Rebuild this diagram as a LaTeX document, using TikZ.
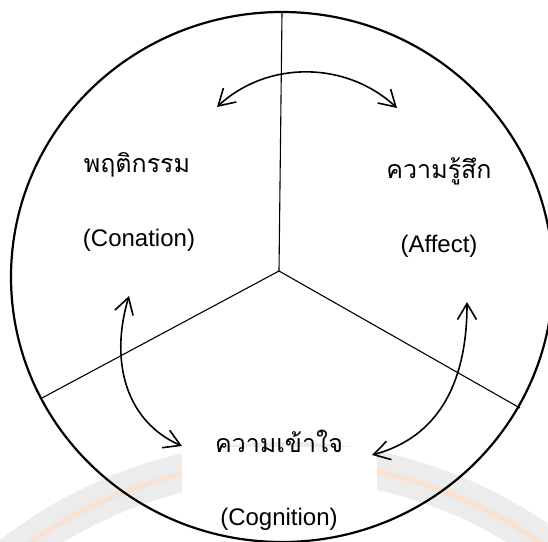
\documentclass[tikz,border=0pt]{standalone}
\usepackage{fontspec}
\setmainfont{Liberation Sans}
\newfontfamily\thaifont[Script=Thai]{Loma}
\usetikzlibrary{arrows.meta}
\definecolor{wmgray}{RGB}{236,236,236}
\definecolor{wmorange}{RGB}{250,226,210}
\begin{document}
\begin{tikzpicture}[x=1pt,y=-1pt,
  sep/.style={line width=1.1pt},
  rel/.style={line width=1.6pt,{Straight Barb[length=16pt,width=19pt]}-{Straight Barb[length=16pt,width=19pt]}},
  thlabel/.style={font=\thaifont\fontsize{25}{29}\selectfont, inner sep=0pt, anchor=base},
  enlabel/.style={font=\fontsize{24}{28}\selectfont, inner sep=0pt, anchor=base}]
\useasboundingbox (0,0) rectangle (548,541);
% faint watermark
\begin{scope}
  \clip (0,0) rectangle (548,541);
  \fill[wmgray, even odd rule] (285,905) circle [radius=463pt] (285,905) circle [radius=425pt];
  \draw[wmorange, line width=5pt] (285,905) circle [radius=443pt];
\end{scope}
\fill[white] (182,447) rectangle (377,541);
% outer circle
\draw[line width=2.2pt] (282,277) ellipse [x radius=271pt, y radius=265pt];
% separators
\coordinate (o) at (279,271);
\coordinate (top) at (282,13);
\coordinate (lft) at (42,398);
\coordinate (rgt) at (520,408);
\draw[sep] (o) -- (top);
\draw[sep] (o) -- (lft);
\draw[sep] (o) -- (rgt);
% labels
\node[thlabel] (con) at (137,172) {พฤติกรรม};
\node[enlabel] (cone) at (139,246) {(Conation)};
\node[thlabel] (aff) at (439,178) {ความรู้สึก};
\node[enlabel] (affe) at (439,252) {(Affect)};
\node[thlabel] (cog) at (279,452) {ความเข้าใจ};
\node[enlabel] (coge) at (279,525) {(Cognition)};
% arrow end points
\coordinate (a1) at (217,107);
\coordinate (a2) at (397,108);
\coordinate (b1) at (129,296);
\coordinate (b2) at (182,446);
\coordinate (c1) at (467,302);
\coordinate (c2) at (372,455);
\draw[rel] (a1) .. controls (267.5,60) and (346.5,61) .. (a2);
\draw[rel] (b1) .. controls (109,363) and (127,422) .. (b2);
\draw[rel] (c1) .. controls (467,382) and (439,437) .. (c2);
\end{tikzpicture}
\end{document}
